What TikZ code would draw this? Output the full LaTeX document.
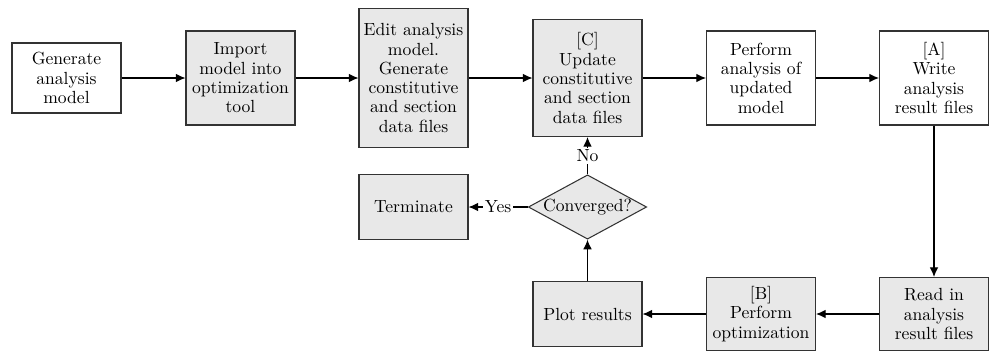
\documentclass[tikz,border=0pt]{standalone}
\usepackage{tikz}
\usetikzlibrary{positioning, arrows, arrows.meta, shapes}

\begin{document}
\begin{tikzpicture}[
	whiteBlock/.style={draw=black!80, line width=0.6pt, rectangle, minimum width=2.18cm, text width=2.1cm, align=center, inner sep=1pt, font=\fontsize{10}{11}\selectfont},
	grayBlock/.style={whiteBlock, fill=black!9},
	link/.style={-{Latex[length=5.5pt, width=5pt]}, line width=0.7pt}
	]
		
		\useasboundingbox (0,0) rectangle (19.8,-7.04);
		
		%Nodes in the first row of the scheme
		\node (generateModel) at (1.33,-1.56) [whiteBlock, minimum height=1.4cm]{Generate\\analysis\\model};
		
		\node (importModel) at (4.81,-1.56) [grayBlock, minimum height=1.88cm]{Import\\model into\\optimization\\tool};
		
		\node (editModel) at (8.27,-1.56) [grayBlock, minimum height=2.78cm]{Edit analysis\\model.\\Generate\\constitutive\\and section\\data files};
		
		\node (updateData) at (11.75,-1.56) [grayBlock, minimum height=2.34cm]{[C]\\Update\\constitutive\\and section\\data files};
		
		\node (performAnalysis) at (15.22,-1.56) [whiteBlock, minimum height=1.88cm]{Perform\\analysis of\\updated\\model};
		
		\node (writeResults) at (18.68,-1.56) [whiteBlock, minimum height=1.88cm]{[A]\\Write\\analysis\\result files};
		
		%Links
		\draw[link] (generateModel.east) -- (importModel.west);
		
		\draw[link] (importModel.east) -- (editModel.west);
		
		\draw[link] (editModel.east) -- (updateData.west);
		
		\draw[link] (updateData.east) -- (performAnalysis.west);
		
		\draw[link] (performAnalysis.east) -- (writeResults.west);
		
		
		%Nodes in the second row of the scheme
		\node (readResults) at (18.68,-6.28) [grayBlock, minimum height=1.46cm]{Read in\\analysis\\result files};
		
		\node (performOptimization) at (15.22,-6.28) [grayBlock, minimum height=1.46cm]{[B]\\Perform\\optimization};
		
		\node (plotResults) at (11.75,-6.28) [grayBlock, minimum height=1.3cm]{Plot results};
		
		%Links
		\draw[link] (writeResults.south) -- (readResults.north);
		
		\draw[link] (readResults.west) -- (performOptimization.east);
		
		\draw[link] (performOptimization.west) -- (plotResults.east);
		
		
		%Decision part of the scheme
		\node (converged) at (11.75,-4.14) [draw=black!80, line width=0.6pt, diamond, fill=black!9, minimum width=2.36cm, minimum height=1.28cm, inner sep=0pt, aspect=1.84, font=\fontsize{10}{11}\selectfont]{Converged?};
		
		\node (terminate) at (8.27,-4.14) [grayBlock, minimum height=1.3cm]{Terminate};
		
		%Links
		\draw[link] (plotResults.north) -- (converged.south);
		
		\draw[link] (converged.west) -- (terminate.east) node[midway, fill=white, inner sep=1pt]{Yes};
		
		\draw[link] (converged.north) -- (updateData.south) node[midway, fill=white, inner sep=1pt]{No};
		
\end{tikzpicture}
\end{document}
